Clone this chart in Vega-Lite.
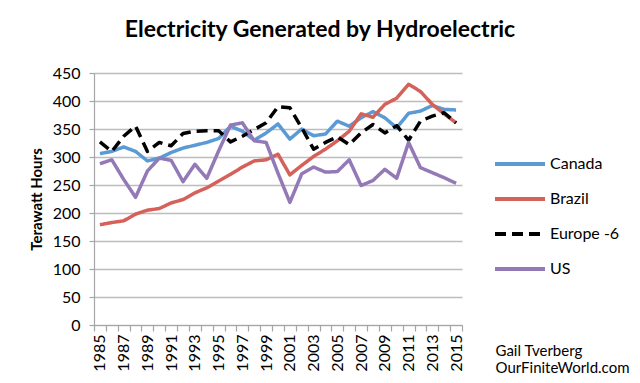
{
  "$schema": "https://vega.github.io/schema/vega-lite/v6.json",
  "width": 368,
  "height": 252,
  "autosize": {"type": "none"},
  "padding": {"left": 94, "top": 73, "right": 178, "bottom": 58},
  "background": "white",
  "config": {"view": {"stroke": null}},
  "title": {"text": "Electricity Generated by Hydroelectric", "font": "Lato", "fontSize": 23, "fontWeight": "bold", "color": "black", "anchor": "middle", "dx": 42, "baseline": "alphabetic", "offset": 5},
  "data": {"values": [
    {"year":1985,"region":"Canada","twh":306},{"year":1986,"region":"Canada","twh":310},{"year":1987,"region":"Canada","twh":318},{"year":1988,"region":"Canada","twh":310},{"year":1989,"region":"Canada","twh":293},{"year":1990,"region":"Canada","twh":298},{"year":1991,"region":"Canada","twh":308},{"year":1992,"region":"Canada","twh":316},{"year":1993,"region":"Canada","twh":321},{"year":1994,"region":"Canada","twh":326},{"year":1995,"region":"Canada","twh":333},{"year":1996,"region":"Canada","twh":355},{"year":1997,"region":"Canada","twh":346},{"year":1998,"region":"Canada","twh":330},{"year":1999,"region":"Canada","twh":343},{"year":2000,"region":"Canada","twh":359},{"year":2001,"region":"Canada","twh":332},{"year":2002,"region":"Canada","twh":350},{"year":2003,"region":"Canada","twh":338},{"year":2004,"region":"Canada","twh":341},{"year":2005,"region":"Canada","twh":364},{"year":2006,"region":"Canada","twh":355},{"year":2007,"region":"Canada","twh":370},{"year":2008,"region":"Canada","twh":381},{"year":2009,"region":"Canada","twh":370},{"year":2010,"region":"Canada","twh":352},{"year":2011,"region":"Canada","twh":378},{"year":2012,"region":"Canada","twh":382},{"year":2013,"region":"Canada","twh":392},{"year":2014,"region":"Canada","twh":385},{"year":2015,"region":"Canada","twh":384},
    {"year":1985,"region":"Brazil","twh":179},{"year":1986,"region":"Brazil","twh":183},{"year":1987,"region":"Brazil","twh":186},{"year":1988,"region":"Brazil","twh":198},{"year":1989,"region":"Brazil","twh":205},{"year":1990,"region":"Brazil","twh":208},{"year":1991,"region":"Brazil","twh":218},{"year":1992,"region":"Brazil","twh":224},{"year":1993,"region":"Brazil","twh":236},{"year":1994,"region":"Brazil","twh":245},{"year":1995,"region":"Brazil","twh":257},{"year":1996,"region":"Brazil","twh":269},{"year":1997,"region":"Brazil","twh":282},{"year":1998,"region":"Brazil","twh":293},{"year":1999,"region":"Brazil","twh":295},{"year":2000,"region":"Brazil","twh":305},{"year":2001,"region":"Brazil","twh":268},{"year":2002,"region":"Brazil","twh":285},{"year":2003,"region":"Brazil","twh":301},{"year":2004,"region":"Brazil","twh":314},{"year":2005,"region":"Brazil","twh":329},{"year":2006,"region":"Brazil","twh":346},{"year":2007,"region":"Brazil","twh":377},{"year":2008,"region":"Brazil","twh":371},{"year":2009,"region":"Brazil","twh":394},{"year":2010,"region":"Brazil","twh":405},{"year":2011,"region":"Brazil","twh":430},{"year":2012,"region":"Brazil","twh":417},{"year":2013,"region":"Brazil","twh":394},{"year":2014,"region":"Brazil","twh":377},{"year":2015,"region":"Brazil","twh":361},
    {"year":1985,"region":"Europe -6","twh":327},{"year":1986,"region":"Europe -6","twh":310},{"year":1987,"region":"Europe -6","twh":337},{"year":1988,"region":"Europe -6","twh":355},{"year":1989,"region":"Europe -6","twh":310},{"year":1990,"region":"Europe -6","twh":326},{"year":1991,"region":"Europe -6","twh":320},{"year":1992,"region":"Europe -6","twh":342},{"year":1993,"region":"Europe -6","twh":346},{"year":1994,"region":"Europe -6","twh":347},{"year":1995,"region":"Europe -6","twh":347},{"year":1996,"region":"Europe -6","twh":327},{"year":1997,"region":"Europe -6","twh":337},{"year":1998,"region":"Europe -6","twh":349},{"year":1999,"region":"Europe -6","twh":361},{"year":2000,"region":"Europe -6","twh":390},{"year":2001,"region":"Europe -6","twh":388},{"year":2002,"region":"Europe -6","twh":352},{"year":2003,"region":"Europe -6","twh":314},{"year":2004,"region":"Europe -6","twh":326},{"year":2005,"region":"Europe -6","twh":336},{"year":2006,"region":"Europe -6","twh":322},{"year":2007,"region":"Europe -6","twh":343},{"year":2008,"region":"Europe -6","twh":358},{"year":2009,"region":"Europe -6","twh":343},{"year":2010,"region":"Europe -6","twh":356},{"year":2011,"region":"Europe -6","twh":330},{"year":2012,"region":"Europe -6","twh":364},{"year":2013,"region":"Europe -6","twh":373},{"year":2014,"region":"Europe -6","twh":379},{"year":2015,"region":"Europe -6","twh":361},
    {"year":1985,"region":"US","twh":288},{"year":1986,"region":"US","twh":295},{"year":1987,"region":"US","twh":260},{"year":1988,"region":"US","twh":228},{"year":1989,"region":"US","twh":275},{"year":1990,"region":"US","twh":298},{"year":1991,"region":"US","twh":294},{"year":1992,"region":"US","twh":256},{"year":1993,"region":"US","twh":287},{"year":1994,"region":"US","twh":262},{"year":1995,"region":"US","twh":311},{"year":1996,"region":"US","twh":357},{"year":1997,"region":"US","twh":361},{"year":1998,"region":"US","twh":329},{"year":1999,"region":"US","twh":326},{"year":2000,"region":"US","twh":271},{"year":2001,"region":"US","twh":219},{"year":2002,"region":"US","twh":270},{"year":2003,"region":"US","twh":282},{"year":2004,"region":"US","twh":273},{"year":2005,"region":"US","twh":274},{"year":2006,"region":"US","twh":295},{"year":2007,"region":"US","twh":249},{"year":2008,"region":"US","twh":258},{"year":2009,"region":"US","twh":278},{"year":2010,"region":"US","twh":262},{"year":2011,"region":"US","twh":326},{"year":2012,"region":"US","twh":281},{"year":2013,"region":"US","twh":272},{"year":2014,"region":"US","twh":263},{"year":2015,"region":"US","twh":253}
  ]},
  "mark": {"type": "line", "strokeWidth": 3.5, "strokeJoin": "round"},
  "encoding": {
    "x": {
      "field": "year", "type": "ordinal", "bandPosition": 0.5,
      "scale": {"type": "band", "paddingInner": 0, "paddingOuter": 0},
      "axis": {
        "labelExpr": "datum.value % 2 == 1 ? datum.label : ''",
        "labelAngle": 270, "labelFont": "Lato", "labelFontSize": 16, "labelColor": "black", "labelPadding": 3,
        "tickBand": "extent", "tickSize": 6, "tickColor": "#a6a6a6", "tickWidth": 1.2,
        "domainColor": "#a6a6a6", "domainWidth": 1.2, "grid": false,
        "title": ["Gail Tverberg", "OurFiniteWorld.com"],
        "titleX": 401, "titleY": 18, "titleAlign": "left", "titleBaseline": "top", "titleAngle": 0,
        "titleFont": "Lato", "titleFontSize": 15, "titleFontWeight": "normal", "titleColor": "black", "titleLineHeight": 17
      }
    },
    "y": {
      "field": "twh", "type": "quantitative",
      "scale": {"domain": [0, 450]},
      "axis": {
        "values": [0, 50, 100, 150, 200, 250, 300, 350, 400, 450],
        "grid": true, "gridColor": "#bdbdbd", "gridWidth": 1.5,
        "domainColor": "#a6a6a6", "domainWidth": 1.2, "tickColor": "#a6a6a6", "tickSize": 5, "tickWidth": 1.2,
        "labelFont": "Lato", "labelFontSize": 16, "labelColor": "black", "labelPadding": 9,
        "title": "Terawatt Hours", "titleFont": "Lato", "titleFontSize": 15, "titleFontWeight": "bold", "titleColor": "black", "titlePadding": 8
      }
    },
    "color": {
      "field": "region", "type": "nominal",
      "scale": {"domain": ["Canada", "Brazil", "Europe -6", "US"], "range": ["#5b9bd5", "#d4615a", "#000000", "#9479b7"]},
      "legend": {"orient": "none", "legendX": 399, "legendY": 64, "title": null, "symbolType": "stroke", "symbolSize": 2500, "symbolStrokeWidth": 4, "labelFont": "Lato", "labelFontSize": 16, "labelColor": "black", "rowPadding": -14, "labelOffset": 3, "padding": 0}
    },
    "strokeDash": {
      "field": "region", "type": "nominal",
      "scale": {"domain": ["Canada", "Brazil", "Europe -6", "US"], "range": [[1, 0], [1, 0], [11, 6], [1, 0]]},
      "legend": {"orient": "none", "legendX": 399, "legendY": 64, "title": null, "symbolType": "stroke", "symbolSize": 2500, "symbolStrokeWidth": 4, "labelFont": "Lato", "labelFontSize": 16, "labelColor": "black", "rowPadding": -14, "labelOffset": 3, "padding": 0}
    }
  }
}
